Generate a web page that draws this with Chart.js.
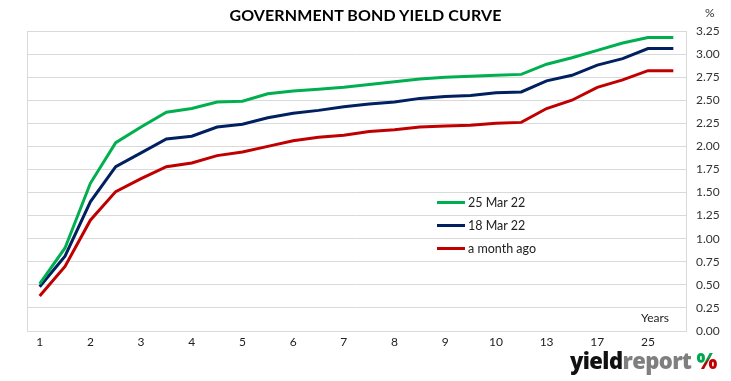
<!DOCTYPE html>
<html>
<head>
<meta charset="utf-8">
<script src="https://cdn.jsdelivr.net/npm/chart.js@4/dist/chart.umd.min.js"></script>
<style>
  html, body { margin: 0; padding: 0; background: #fff; }
  #wrap { position: relative; width: 731px; height: 381px; overflow: hidden; font-family: Lato, "Open Sans", sans-serif; }
  #c { position: absolute; left: 0; top: 0; }
  .title { position: absolute; left: 0; width: 731px; top: 5px; text-align: center; font: bold 16px Lato, sans-serif; color: #000; letter-spacing: 0.1px; }
  .pct { position: absolute; left: 705px; top: 5px; font: 12px Lato, sans-serif; color: #333; }
  .years { position: absolute; left: 641px; top: 310px; font: 12px Lato, sans-serif; color: #222; }
  .legend { position: absolute; left: 437px; top: 195px; font: 12.5px Lato, sans-serif; color: #222; }
  .legend div { height: 23px; line-height: 16px; white-space: nowrap; }
  .legend span.sw { display: inline-block; width: 28px; height: 3px; vertical-align: middle; margin-right: 3px; position: relative; top: -1px; }
  .logo { position: absolute; left: 570px; top: 345px; font: 900 22px "Open Sans", sans-serif; letter-spacing: -0.6px; white-space: nowrap; }
  .logo .y { color: #111; }
  .logo .r { color: #7f7f7f; }
  .logo .p { background: linear-gradient(135deg, #00a651 0%, #00a651 50%, #c00000 55%, #c00000 100%); -webkit-background-clip: text; background-clip: text; color: transparent; margin-left: 5px; }
</style>
</head>
<body>
<div id="wrap">
  <canvas id="c" width="731" height="381"></canvas>
  <div class="title">GOVERNMENT BOND YIELD CURVE</div>
  <div class="pct">%</div>
  <div class="years">Years</div>
  <div class="legend" id="legend"></div>
  <div class="logo"><span class="y">yield</span><span class="r">report</span><span class="p">%</span></div>
</div>
<script>
const maturities = ['1','1.5','2','2.5','3','3.5','4','4.5','5','5.5','6','6.5','7','7.5','8','8.5','9','9.5','10','11','13','15','17','21','25','30'];
const seriesNames = ['25 Mar 22', '18 Mar 22', 'a month ago'];
const yield25Mar = [0.51,0.90,1.60,2.04,2.21,2.37,2.41,2.48,2.49,2.57,2.60,2.62,2.64,2.67,2.70,2.73,2.75,2.76,2.77,2.78,2.89,2.96,3.04,3.12,3.18,3.18];
const yield18Mar = [0.48,0.81,1.40,1.78,1.93,2.08,2.11,2.21,2.24,2.31,2.36,2.39,2.43,2.46,2.48,2.52,2.54,2.55,2.58,2.59,2.71,2.77,2.88,2.95,3.06,3.06];
const yieldMonthAgo = [0.38,0.70,1.20,1.51,1.65,1.78,1.82,1.90,1.94,2.00,2.06,2.10,2.12,2.16,2.18,2.21,2.22,2.23,2.25,2.26,2.41,2.50,2.64,2.72,2.82,2.82];
const yTicks = [0,0.25,0.5,0.75,1,1.25,1.5,1.75,2,2.25,2.5,2.75,3,3.25];

const colors = ['#00b050', '#002060', '#c00000'];
const allSeries = [yield25Mar, yield18Mar, yieldMonthAgo];

const leftBorder = {
  id: 'leftBorder',
  beforeDatasetsDraw(chart) {
    const {ctx, chartArea} = chart;
    ctx.save();
    ctx.strokeStyle = '#d9d9d9';
    ctx.lineWidth = 1;
    ctx.beginPath();
    ctx.moveTo(Math.round(chartArea.left) + 0.5, chartArea.top);
    ctx.lineTo(Math.round(chartArea.left) + 0.5, chartArea.bottom);
    ctx.stroke();
    ctx.restore();
  }
};

const chart = new Chart(document.getElementById('c'), {
  type: 'line',
  data: {
    labels: maturities,
    datasets: allSeries.map((d, i) => ({
      label: seriesNames[i],
      data: d,
      borderColor: colors[i],
      backgroundColor: colors[i],
      borderWidth: 3,
      pointRadius: 0,
      tension: 0,
      fill: false
    }))
  },
  options: {
    responsive: false,
    animation: false,
    layout: { padding: { left: 27, top: 31, right: 0, bottom: 0 } },
    plugins: { legend: { display: false }, tooltip: { enabled: false }, title: { display: false } },
    scales: {
      x: {
        type: 'category',
        offset: true,
        grid: { display: false, drawTicks: false },
        border: { display: true, color: '#d9d9d9' },
        ticks: {
          autoSkip: false, maxRotation: 0, padding: 4,
          color: '#222', font: { family: 'Lato', size: 12 },
          callback: function(v, i) { return i % 2 === 0 ? maturities[i] : ''; }
        },
        afterFit(scale) { scale.height = 50; }
      },
      y: {
        position: 'right',
        min: 0, max: 3.25,
        afterBuildTicks(scale) { scale.ticks = yTicks.map(v => ({ value: v })); },
        grid: { color: '#d9d9d9', drawTicks: false },
        border: { display: true, color: '#d9d9d9' },
        ticks: {
          padding: 10, color: '#333', font: { family: 'Lato', size: 12 },
          callback: v => Number(v).toFixed(2)
        },
        afterFit(scale) { scale.width = 45; }
      }
    }
  },
  plugins: [leftBorder]
});

const lg = document.getElementById('legend');
seriesNames.forEach((n, i) => {
  const row = document.createElement('div');
  row.innerHTML = '<span class="sw" style="background:' + colors[i] + '"></span>' + n;
  lg.appendChild(row);
});
</script>
</body>
</html>
